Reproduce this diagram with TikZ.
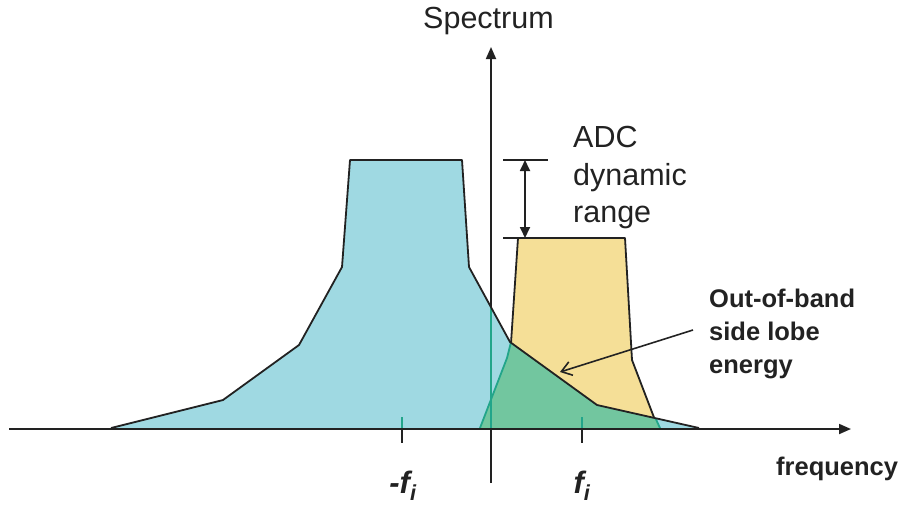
\documentclass[tikz,border=0pt]{standalone}
\usepackage{fontspec}
\setmainfont{Liberation Sans}
\usetikzlibrary{arrows.meta}
\definecolor{lobeblue}{HTML}{9FD9E2}
\definecolor{lobeyellow}{HTML}{F5DF97}
\definecolor{lobegreen}{HTML}{72C69F}
\definecolor{lobeteal}{HTML}{22A58A}
\definecolor{ink}{HTML}{222222}
\tikzset{
  axisline/.style={draw=ink, line width=1.8pt},
  outline/.style={draw=ink, line width=1.8pt, line join=round},
  tealline/.style={draw=lobeteal, line width=1.8pt},
  lbl/.style={anchor=base west, inner sep=0pt, text=ink, font=\fontsize{30.5}{34}\selectfont},
  blbl/.style={anchor=base west, inner sep=0pt, text=ink, font=\fontsize{25.5}{30}\selectfont\bfseries},
  fl/.style={anchor=base, inner sep=0pt, text=ink, font=\fontsize{31}{34}\selectfont\bfseries\itshape},
  tip/.style={-{Triangle[length=12pt,width=10pt]}}
}
\begin{document}
\begin{tikzpicture}[x=1pt,y=-1pt]
\useasboundingbox (0,0) rectangle (901,504);
% coordinates
\coordinate (vbot) at (491,483);
\coordinate (vtop) at (491,47);
\coordinate (hleft) at (9,429);
\coordinate (hright) at (851,429);
% vertical axis and ticks (under the fills)
\draw[axisline, tip] (vbot) -- (vtop);
\draw[axisline] (402,417) -- (402,443);
\draw[axisline] (582,417) -- (582,443);
% fills
\fill[lobeblue] (111,428) -- (223,400) -- (299,345) -- (342,267) -- (350,160) -- (462,160) -- (469,267) -- (510,342) -- (597,405) -- (699,428) -- cycle;
\fill[lobeyellow] (480,428) -- (507,358) -- (511,342) -- (518,238) -- (625,238) -- (632,360) -- (654,415) -- (660,428) -- cycle;
\begin{scope}
  \clip (111,428) -- (223,400) -- (299,345) -- (342,267) -- (350,160) -- (462,160) -- (469,267) -- (510,342) -- (597,405) -- (699,428) -- cycle;
  \fill[lobegreen] (480,428) -- (507,358) -- (511,342) -- (518,238) -- (625,238) -- (632,360) -- (654,415) -- (660,428) -- cycle;
  \draw[tealline] (480,428) -- (507,358) -- (511,342) -- (518,238) -- (625,238) -- (632,360) -- (654,415) -- (660,428);
  \draw[tealline] (491,300) -- (491,429);
  \draw[tealline] (402,417) -- (402,429);
  \draw[tealline] (582,417) -- (582,429);
\end{scope}
% outlines
\draw[outline] (111,428) -- (223,400) -- (299,345) -- (342,267) -- (350,160) -- (462,160) -- (469,267) -- (510,342) -- (597,405) -- (699,428);
\draw[outline] (511,343) -- (518,238) -- (625,238) -- (632,360) -- (654,417.5);
% horizontal axis
\draw[axisline, tip] (hleft) -- (hright);
% dynamic range marker
\coordinate (drtop) at (525,160);
\coordinate (drbot) at (525,238);
\draw[axisline] (503,160) -- (548,160);
\draw[axisline] (503,238) -- (518,238);
\draw[axisline, {Triangle[length=11pt,width=10pt]}-{Triangle[length=11pt,width=10pt]}] (drtop) -- (drbot);
% labels
\node[lbl] (spec) at (423,28) {Spectrum};
\node[lbl] (adc1) at (573,147) {ADC};
\node[lbl] (adc2) at (573,185) {dynamic};
\node[lbl] (adc3) at (573,222) {range};
\node[blbl] (oob1) at (709,307) {Out-of-band};
\node[blbl] (oob2) at (709,340) {side lobe};
\node[blbl] (oob3) at (709,373) {energy};
\node[anchor=base west, inner sep=0pt, text=ink, font=\fontsize{25.5}{28}\selectfont\bfseries] (freq) at (776,475) {frequency};
\node[fl] (mfi) at (403,493) {-f\textsubscript{i}};
\node[fl] (fi) at (582,493) {f\textsubscript{i}};
% side lobe arrow
\coordinate (lobept) at (560,372);
\coordinate (lobestart) at (693,330);
\draw[draw=ink, line width=1.6pt, -{Straight Barb[length=10pt,width=14pt]}] (lobestart) -- (lobept);
\end{tikzpicture}
\end{document}
